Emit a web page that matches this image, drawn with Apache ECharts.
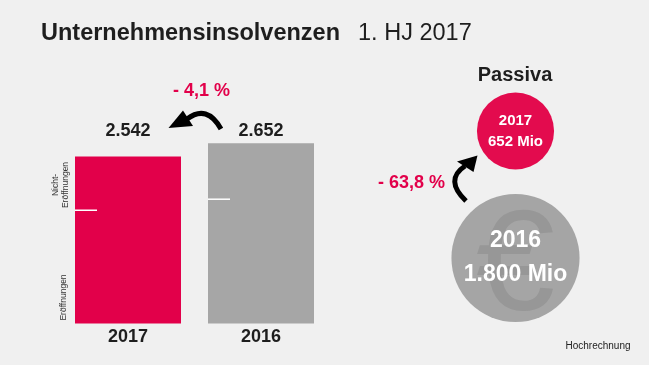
<!DOCTYPE html>
<html>
<head>
<meta charset="utf-8">
<script src="https://cdn.jsdelivr.net/npm/echarts@6/dist/echarts.min.js"></script>
<style>
html,body{margin:0;padding:0;background:#f0f0f0;}
#c{width:649px;height:365px;}
</style>
</head>
<body>
<div id="c"></div>
<script>
// ---- data ----
const categories = ['2017', '2016'];
const totals = [2542, 2652];
const totalLabels = ['2.542', '2.652'];
const eroeffnungen = [2094, 2186];        // boundary Eröffnungen / Nicht-Eröffnungen
const changeLabel = '- 4,1 %';

const passivaYears = ['2017', '2016'];
const passivaValues = [652, 1800];
const passivaLabels = ['652 Mio', '1.800 Mio'];
const passivaChange = '- 63,8 %';

// ---- style ----
const RED = '#e2004a';
const GRAY = '#a6a6a6';
const FONT = '"Liberation Sans", Arial, sans-serif';

const chart = echarts.init(document.getElementById('c'));

const barColor = p => (p.dataIndex === 0 ? RED : GRAY);

const circleData = passivaYears.map((y, i) => ({
  value: [0, y, passivaValues[i]],
  itemStyle: { color: i === 0 ? '#e30b4e' : '#a5a5a5', opacity: 1 }
}));

const circleLabelData = passivaYears.map((y, i) => ({
  value: [0, y, passivaValues[i]],
  label: {
    show: true,
    formatter: '{y|' + y + '}\n{v|' + passivaLabels[i] + '}',
    rich: {
      y: { fontFamily: FONT, fontWeight: 'bold', color: '#fff', fontSize: i === 0 ? 15 : 23, lineHeight: i === 0 ? 21 : 34, align: 'center' },
      v: { fontFamily: FONT, fontWeight: 'bold', color: '#fff', fontSize: i === 0 ? 15 : 23, lineHeight: i === 0 ? 21 : 34, align: 'center' }
    }
  }
}));

const euroData = passivaYears.map((y, i) => ({
  value: [0, y, passivaValues[i]],
  label: { show: i === 1 }
}));

const option = {
  backgroundColor: '#f0f0f0',
  animation: false,
  title: {
    left: 41, top: 22, padding: 0,
    text: '{b|Unternehmensinsolvenzen}{n|1. HJ 2017}',
    textStyle: {
      rich: {
        b: { fontFamily: FONT, fontWeight: 'bold', fontSize: 23.5, color: '#1e1e1e' },
        n: { fontFamily: FONT, fontWeight: 'normal', fontSize: 23.5, color: '#1e1e1e', padding: [0, 0, 0, 18] }
      }
    }
  },
  grid: [
    { left: 61.5, right: 321.5, top: 143.3, bottom: 41.5 },
    { left: 440, right: 58, top: 67.5, bottom: 43.5 }
  ],
  xAxis: [
    {
      gridIndex: 0, type: 'category', data: categories, position: 'bottom',
      axisLine: { show: false }, axisTick: { show: false },
      axisLabel: { margin: 5, fontFamily: FONT, fontWeight: 'bold', fontSize: 18, color: '#1e1e1e' }
    },
    {
      gridIndex: 0, type: 'category', data: totalLabels, position: 'top',
      axisLine: { show: false }, axisTick: { show: false },
      axisLabel: { margin: 3, fontFamily: FONT, fontWeight: 'bold', fontSize: 18, color: '#1e1e1e' }
    },
    {
      gridIndex: 1, type: 'category', data: ['Passiva'], show: false
    }
  ],
  yAxis: [
    { gridIndex: 0, type: 'value', min: 1150, max: 2652, show: false, splitLine: { show: false } },
    { gridIndex: 1, type: 'category', data: ['2016', '2017'], show: false }
  ],
  series: [
    {
      name: 'Insolvenzen', type: 'bar', xAxisIndex: 0, yAxisIndex: 0,
      barWidth: 106, data: totals, itemStyle: { color: barColor }, clip: true
    },
    {
      name: 'Eröffnungen', type: 'scatter', xAxisIndex: 0, yAxisIndex: 0, z: 5,
      data: eroeffnungen, symbol: 'rect', symbolSize: [22, 1.5], symbolOffset: [-42, 0],
      itemStyle: { color: '#ffffff', opacity: 1 }
    },
    {
      name: 'Passiva', type: 'scatter', xAxisIndex: 2, yAxisIndex: 1, z: 2,
      data: circleData, symbolSize: v => 3.02 * Math.sqrt(v[2])
    },
    {
      name: 'euro', type: 'scatter', xAxisIndex: 2, yAxisIndex: 1, z: 3,
      data: euroData, symbolSize: 1, itemStyle: { color: 'rgba(0,0,0,0)', opacity: 1 },
      label: { position: 'inside', formatter: '€', fontFamily: FONT, fontSize: 142, color: '#979797', offset: [0, 13] }
    },
    {
      name: 'PassivaLabels', type: 'scatter', xAxisIndex: 2, yAxisIndex: 1, z: 4,
      data: circleLabelData, symbolSize: 1, itemStyle: { color: 'rgba(0,0,0,0)', opacity: 1 },
      label: { position: 'inside' }
    }
  ],
  graphic: [
    { type: 'text', x: 201.5, y: 91.5, style: { text: changeLabel, fill: RED, fontFamily: FONT, fontWeight: 'bold', fontSize: 18, align: 'center', verticalAlign: 'middle' } },
    { type: 'text', x: 411.5, y: 183, style: { text: passivaChange, fill: RED, fontFamily: FONT, fontWeight: 'bold', fontSize: 18, align: 'center', verticalAlign: 'middle' } },
    { type: 'text', x: 515, y: 75, style: { text: 'Passiva', fill: '#1e1e1e', fontFamily: FONT, fontWeight: 'bold', fontSize: 20, align: 'center', verticalAlign: 'middle' } },
    { type: 'text', x: 598, y: 346.5, style: { text: 'Hochrechnung', fill: '#222', fontFamily: FONT, fontSize: 10, align: 'center', verticalAlign: 'middle' } },
    { type: 'text', x: 60.5, y: 185, rotation: Math.PI / 2, style: { text: 'Nicht-\nEröffnungen', fill: '#333', fontFamily: FONT, fontSize: 8.5, lineHeight: 10, align: 'center', verticalAlign: 'middle' } },
    { type: 'text', x: 63.5, y: 297.5, rotation: Math.PI / 2, style: { text: 'Eröffnungen', fill: '#333', fontFamily: FONT, fontSize: 8.5, align: 'center', verticalAlign: 'middle' } },
    // arrow 1 (bars)
    { type: 'bezierCurve', shape: { x1: 221, y1: 129, cpx1: 207, cpy1: 104, x2: 187, y2: 119 }, style: { stroke: '#000', lineWidth: 5, fill: null } },
    { type: 'polygon', shape: { points: [[168.5, 128], [183, 110.5], [193, 126]] }, style: { fill: '#000' } },
    // arrow 2 (circles)
    { type: 'bezierCurve', shape: { x1: 466, y1: 201, cpx1: 444, cpy1: 180, x2: 465, y2: 166 }, style: { stroke: '#000', lineWidth: 5, fill: null } },
    { type: 'polygon', shape: { points: [[477.5, 155.5], [457, 161.5], [473.5, 172]] }, style: { fill: '#000' } }
  ]
};

chart.setOption(option);
</script>
</body>
</html>
